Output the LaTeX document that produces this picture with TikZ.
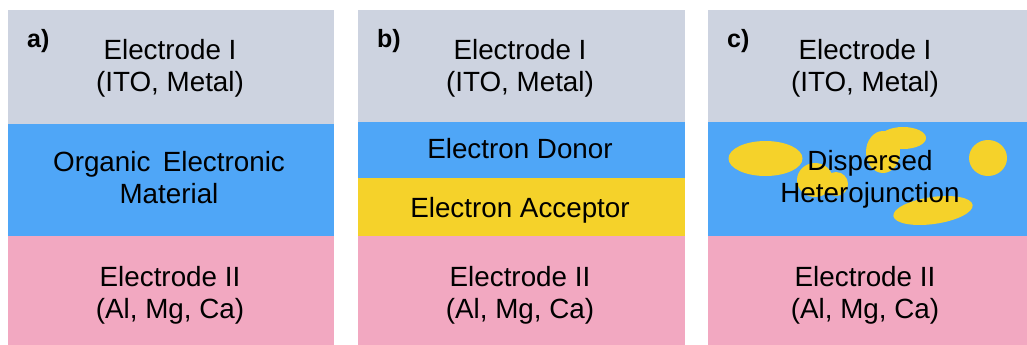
\documentclass[tikz,border=0pt]{standalone}
\usepackage{fontspec}
\setmainfont{Liberation Sans}
\definecolor{elgray}{RGB}{205,211,224}
\definecolor{orgblue}{RGB}{79,166,247}
\definecolor{elpink}{RGB}{242,168,193}
\definecolor{accyellow}{RGB}{245,210,42}
\begin{document}
\begin{tikzpicture}[x=1pt,y=-1pt,
  layer/.style={draw=none,inner sep=0pt,outer sep=0pt,rectangle},
  txt/.style={inner sep=0pt,align=center,font=\fontsize{27.8}{32}\selectfont},
  lbl/.style={inner sep=0pt,anchor=base west,font=\fontsize{25}{29}\selectfont\bfseries},
  blob/.style={fill=accyellow,draw=none}]
\useasboundingbox (0,0) rectangle (1027,345);
% panel a
\node[layer,fill=elgray,minimum width=326,minimum height=114] (a1) at (171,67) {};
\node[layer,fill=orgblue,minimum width=326,minimum height=112] (a2) at (171,180) {};
\node[layer,fill=elpink,minimum width=326,minimum height=109] (a3) at (171,290.5) {};
\node[txt] (a1t) at (170,68) {Electrode I\\(ITO, Metal)};
\node[txt] (a2t) at (169,178) {Organic\, Electronic\\Material};
\node[txt] (a3t) at (170,295) {Electrode II\\(Al, Mg, Ca)};
\node[lbl] (la) at (27,48) {a)};
% panel b
\node[layer,fill=elgray,minimum width=327,minimum height=112] (b1) at (521.5,66) {};
\node[layer,fill=orgblue,minimum width=327,minimum height=56] (b2) at (521.5,150) {};
\node[layer,fill=accyellow,minimum width=327,minimum height=58] (b3) at (521.5,207) {};
\node[layer,fill=elpink,minimum width=327,minimum height=109] (b4) at (521.5,290.5) {};
\node[txt] (b1t) at (520,68) {Electrode I\\(ITO, Metal)};
\node[txt] (b2t) at (520,149) {Electron Donor};
\node[txt] (b3t) at (520,210) {Electron Acceptor};
\node[txt] (b4t) at (520,295) {Electrode II\\(Al, Mg, Ca)};
\node[lbl] (lb) at (377,48) {b)};
% panel c
\node[layer,fill=elgray,minimum width=319,minimum height=112] (c1) at (867.5,66) {};
\node[layer,fill=orgblue,minimum width=319,minimum height=114] (c2) at (867.5,179) {};
\node[layer,fill=elpink,minimum width=319,minimum height=109] (c3) at (867.5,290.5) {};
\fill[blob] (765.5,158.5) ellipse [x radius=37, y radius=17.5];
\fill[blob] (883,152) ellipse [x radius=17, y radius=21];
\fill[blob] (903,138) ellipse [x radius=23, y radius=11];
\fill[blob] (815,180) ellipse [x radius=18, y radius=17];
\fill[blob] (836,184) ellipse [x radius=12, y radius=12];
\fill[blob] (988,158) ellipse [x radius=19, y radius=18];
\fill[blob,rotate around={8:(933,210.5)}] (933,210.5) ellipse [x radius=40, y radius=13.5];
\node[txt] (c1t) at (865,68) {Electrode I\\(ITO, Metal)};
\node[txt] (c2t) at (870,179) {Dispersed\\Heterojunction};
\node[txt] (c3t) at (865,295) {Electrode II\\(Al, Mg, Ca)};
\node[lbl] (lc) at (727,48) {c)};
\end{tikzpicture}
\end{document}
